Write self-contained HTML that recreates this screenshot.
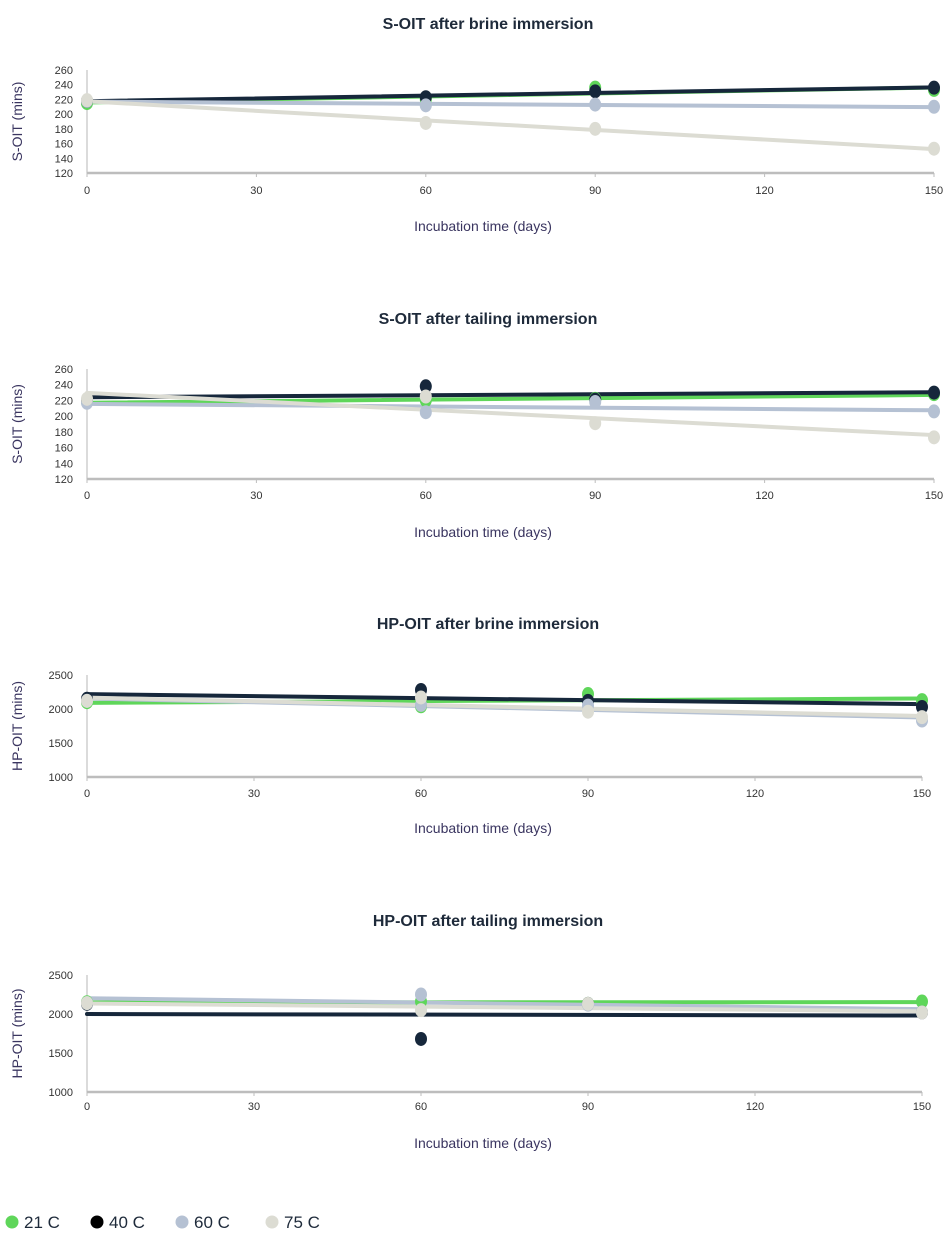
<!DOCTYPE html>
<html><head><meta charset="utf-8">
<style>
body{margin:0;background:#fff;width:947px;height:1237px;overflow:hidden;font-family:"Liberation Sans",sans-serif}
svg{position:absolute;left:0;top:0}
</style></head>
<body>
<svg id="c" width="947" height="1237"></svg>
<script>
const days=[0,60,90,150];
const xTicks=[0,30,60,90,120,150];
const seriesNames=["21 C","40 C","60 C","75 C"];
const colors=["#5fd65a","#16273b","#b5c1d3","#dcdcd3"];
const c1_21=[215,220,236,233], c1_40=[218,223,231,236], c1_60=[218,212,213,210], c1_75=[219,188,180,153];
const c2_21=[218,220,222,228], c2_40=[220,238,221,230], c2_60=[217,205,218,206], c2_75=[222,225,191,173];
const c3_21=[2100,2040,2220,2130], c3_40=[2150,2280,2120,2030], c3_60=[2120,2060,2050,1830], c3_75=[2120,2170,1960,1880];
const c4_21=[2150,2160,2130,2160], c4_40=[2130,1680,2130,2020], c4_60=[2140,2250,2120,2020], c4_75=[2140,2050,2130,2020];
const sTicks=[120,140,160,180,200,220,240,260];
const hTicks=[1000,1500,2000,2500];
const titles=["S-OIT after brine immersion","S-OIT after tailing immersion","HP-OIT after brine immersion","HP-OIT after tailing immersion"];
const yTitles=["S-OIT (mins)","S-OIT (mins)","HP-OIT (mins)","HP-OIT (mins)"];
const charts=[
 {data:[c1_21,c1_40,c1_60,c1_75],ticks:sTicks,tY:24,yTop:70,yBot:173,x0:87,x1:934,lY:190,xtY:226},
 {data:[c2_21,c2_40,c2_60,c2_75],ticks:sTicks,tY:319,yTop:369,yBot:479,x0:87,x1:934,lY:495,xtY:532},
 {data:[c3_21,c3_40,c3_60,c3_75],ticks:hTicks,tY:624,yTop:675,yBot:777,x0:87,x1:922,lY:793,xtY:828},
 {data:[c4_21,c4_40,c4_60,c4_75],ticks:hTicks,tY:921,yTop:975,yBot:1092,x0:87,x1:922,lY:1106,xtY:1143}
];
const svg=document.getElementById('c');
const NS="http://www.w3.org/2000/svg";
function mk(t,a,p){const e=document.createElementNS(NS,t);for(const k in a)e.setAttribute(k,a[k]);(p||svg).appendChild(e);return e;}
function txt(s,a,p){const e=mk('text',a,p);e.textContent=s;return e;}
charts.forEach((ch,i)=>{
 const g=mk('g',{});
 
 
 const lo=ch.ticks[0],hi=ch.ticks[ch.ticks.length-1];
 const X=v=>ch.x0+(v-0)/(150)*(ch.x1-ch.x0);
 const Y=v=>ch.yBot-(v-lo)/(hi-lo)*(ch.yBot-ch.yTop);
 const t=txt(titles[i],{x:488,y:ch.tY+5,'text-anchor':'middle','font-size':16,'font-weight':'bold',fill:'#1e2a3a'},g);
 
 
 const ya=mk('line',{x1:ch.x0,y1:ch.yTop,x2:ch.x0,y2:ch.yBot,stroke:'#cfcfcf','stroke-width':1.5},g);
 
 
 const xa=mk('line',{x1:ch.x0,y1:ch.yBot,x2:ch.x1,y2:ch.yBot,stroke:'#bdbdbd','stroke-width':2.5},g);
 
 
 ch.ticks.forEach(v=>{
  const l=txt(v,{x:ch.x0-14,y:Y(v)+4,'text-anchor':'end','font-size':11,fill:'#333'},g);
  
  
 });
 xTicks.forEach(v=>{
  mk('line',{x1:X(v),y1:ch.yBot,x2:X(v),y2:ch.yBot+4,stroke:'#bdbdbd'},g);
  const l=txt(v,{x:X(v),y:ch.lY+4,'text-anchor':'middle','font-size':11,fill:'#333'},g);
  
  
 });
 const yt=txt(yTitles[i],{x:0,y:0,'text-anchor':'middle','font-size':14,fill:'#3a3560',transform:`translate(22,${(ch.yTop+ch.yBot)/2}) rotate(-90)`},g);
 
 
 const xt=txt('Incubation time (days)',{x:483,y:ch.xtY+5,'text-anchor':'middle','font-size':14,fill:'#3a3560'},g);
 
 
 ch.data.forEach((d,s)=>{
  const n=days.length,mx=days.reduce((a,b)=>a+b)/n,my=d.reduce((a,b)=>a+b)/n;
  let num=0,den=0;days.forEach((x,k)=>{num+=(x-mx)*(d[k]-my);den+=(x-mx)**2;});
  const b=num/den,a=my-b*mx;
  ch.trend=ch.trend||[];
  const ln=mk('line',{x1:X(0),y1:Y(a),x2:X(150),y2:Y(a+b*150),stroke:colors[s],'stroke-width':4,'stroke-linecap':'round'},g);
  
  
 });
 ch.data.forEach((d,s)=>{
  d.forEach((v,k)=>{
   const p=mk('ellipse',{cx:X(days[k]),cy:Y(v),rx:6,ry:7,fill:colors[s]},g);
   
   
  });
 });
});
const lg=mk('g',{});


const legX=[12,97,182,272];
seriesNames.forEach((n,s)=>{
 const e=mk('g',{},lg);
 
 
 mk('circle',{cx:legX[s],cy:1222,r:6.5,fill:s==1?'#000':colors[s]},e);
 txt(n,{x:legX[s]+12,y:1228,'font-size':17,fill:'#1e2a3a'},e);
});
</script>
</body></html>
